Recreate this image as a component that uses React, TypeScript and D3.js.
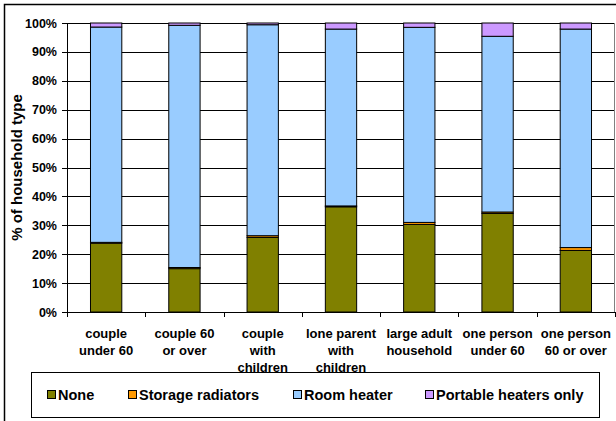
import React from "react";
import * as d3 from "d3";

const categories = [
  ["couple", "under 60"],
  ["couple 60", "or over"],
  ["couple", "with", "children"],
  ["lone parent", "with", "children"],
  ["large adult", "household"],
  ["one person", "under 60"],
  ["one person", "60 or over"],
];
const seriesNames = ["None", "Storage radiators", "Room heater", "Portable heaters only"];
const seriesColors = ["#808000", "#FF9900", "#99CCFF", "#CC99FF"];
const none = [23.8, 15.0, 25.8, 36.4, 30.3, 34.1, 21.3];
const storage = [0.3, 0.4, 0.6, 0.3, 0.7, 0.5, 1.0];
const roomHeater = [74.5, 83.8, 73.0, 61.2, 67.5, 60.8, 75.6];
const portable = [1.4, 0.8, 0.6, 2.1, 1.5, 4.6, 2.1];
const yTicks = [0, 10, 20, 30, 40, 50, 60, 70, 80, 90, 100];
const yTitle = "% of household type";

export default function App() {
  const W = 616, H = 421;
  const left = 67, right = 615, top = 23, bottom = 312;
  const idx = categories.map((_, i) => i);
  const x = d3.scaleBand<number>().domain(idx).range([left, right]).paddingInner(0.6).paddingOuter(0.3);
  const xb = d3.scaleBand<number>().domain(idx).range([left, right]);
  const y = d3.scaleLinear().domain([0, 100]).range([bottom, top]);
  const series = [none, storage, roomHeater, portable];
  const rows = idx.map((i) => {
    const o: any = { i };
    series.forEach((s, k) => (o["s" + k] = s[i]));
    return o;
  });
  const stack = d3.stack<any>().keys(["s0", "s1", "s2", "s3"])(rows);
  const font = "'Liberation Sans', Arial, sans-serif";
  const legendX = [47, 128, 293, 425];

  return (
    <div style={{ position: "absolute", left: 0, top: 0 }}>
      <svg width={W} height={H} style={{ display: "block", background: "#fff" }}>
        <rect x={4.5} y={4.5} width={700} height={600} fill="#fff" stroke="#000" strokeWidth={1.5} />
        {yTicks.map((t) => (
          <line key={t} x1={left - 5} x2={right} y1={Math.round(y(t)) + 0.5} y2={Math.round(y(t)) + 0.5} stroke="#000" strokeWidth={1} />
        ))}
        <line x1={right - 0.5} x2={right - 0.5} y1={top} y2={bottom} stroke="#808080" />
        <line x1={left + 0.5} x2={left + 0.5} y1={top} y2={bottom + 0.5} stroke="#000" />
        {idx.concat([idx.length]).map((i) => {
          const xx = Math.round(i < idx.length ? (xb(i) as number) : right) + 0.5;
          return <line key={i} x1={xx} x2={xx} y1={bottom} y2={bottom + 5} stroke="#000" />;
        })}
        {stack.map((layer, k) =>
          layer.map((d, i) => (
            <rect
              key={k + "-" + i}
              x={x(i) as number}
              width={x.bandwidth()}
              y={y(d[1])}
              height={y(d[0]) - y(d[1])}
              fill={seriesColors[k]}
              stroke="#000"
              strokeWidth={1}
            />
          ))
        )}
        {yTicks.map((t) => (
          <text key={t} x={57} y={y(t) + 4.5} textAnchor="end" fontFamily={font} fontWeight="bold" fontSize={12.5}>
            {t + "%"}
          </text>
        ))}
        <text transform={`translate(22,${(top + bottom) / 2}) rotate(-90)`} textAnchor="middle" fontFamily={font} fontWeight="bold" fontSize={15}>
          {yTitle}
        </text>
        {categories.map((lines, i) => (
          <text key={i} textAnchor="middle" fontFamily={font} fontWeight="bold" fontSize={13}>
            {lines.map((l, j) => (
              <tspan key={j} x={(xb(i) as number) + xb.bandwidth() / 2} y={338 + j * 17}>
                {l}
              </tspan>
            ))}
          </text>
        ))}
        <rect x={31.5} y={372.5} width={568} height={45} fill="#fff" stroke="#000" />
        {seriesNames.map((n, k) => (
          <g key={n}>
            <rect x={legendX[k] + 0.5} y={390.5} width={8} height={8} fill={seriesColors[k]} stroke="#000" />
            <text x={legendX[k] + 11} y={400} fontFamily={font} fontWeight="bold" fontSize={14.5}>
              {n}
            </text>
          </g>
        ))}
      </svg>
    </div>
  );
}
